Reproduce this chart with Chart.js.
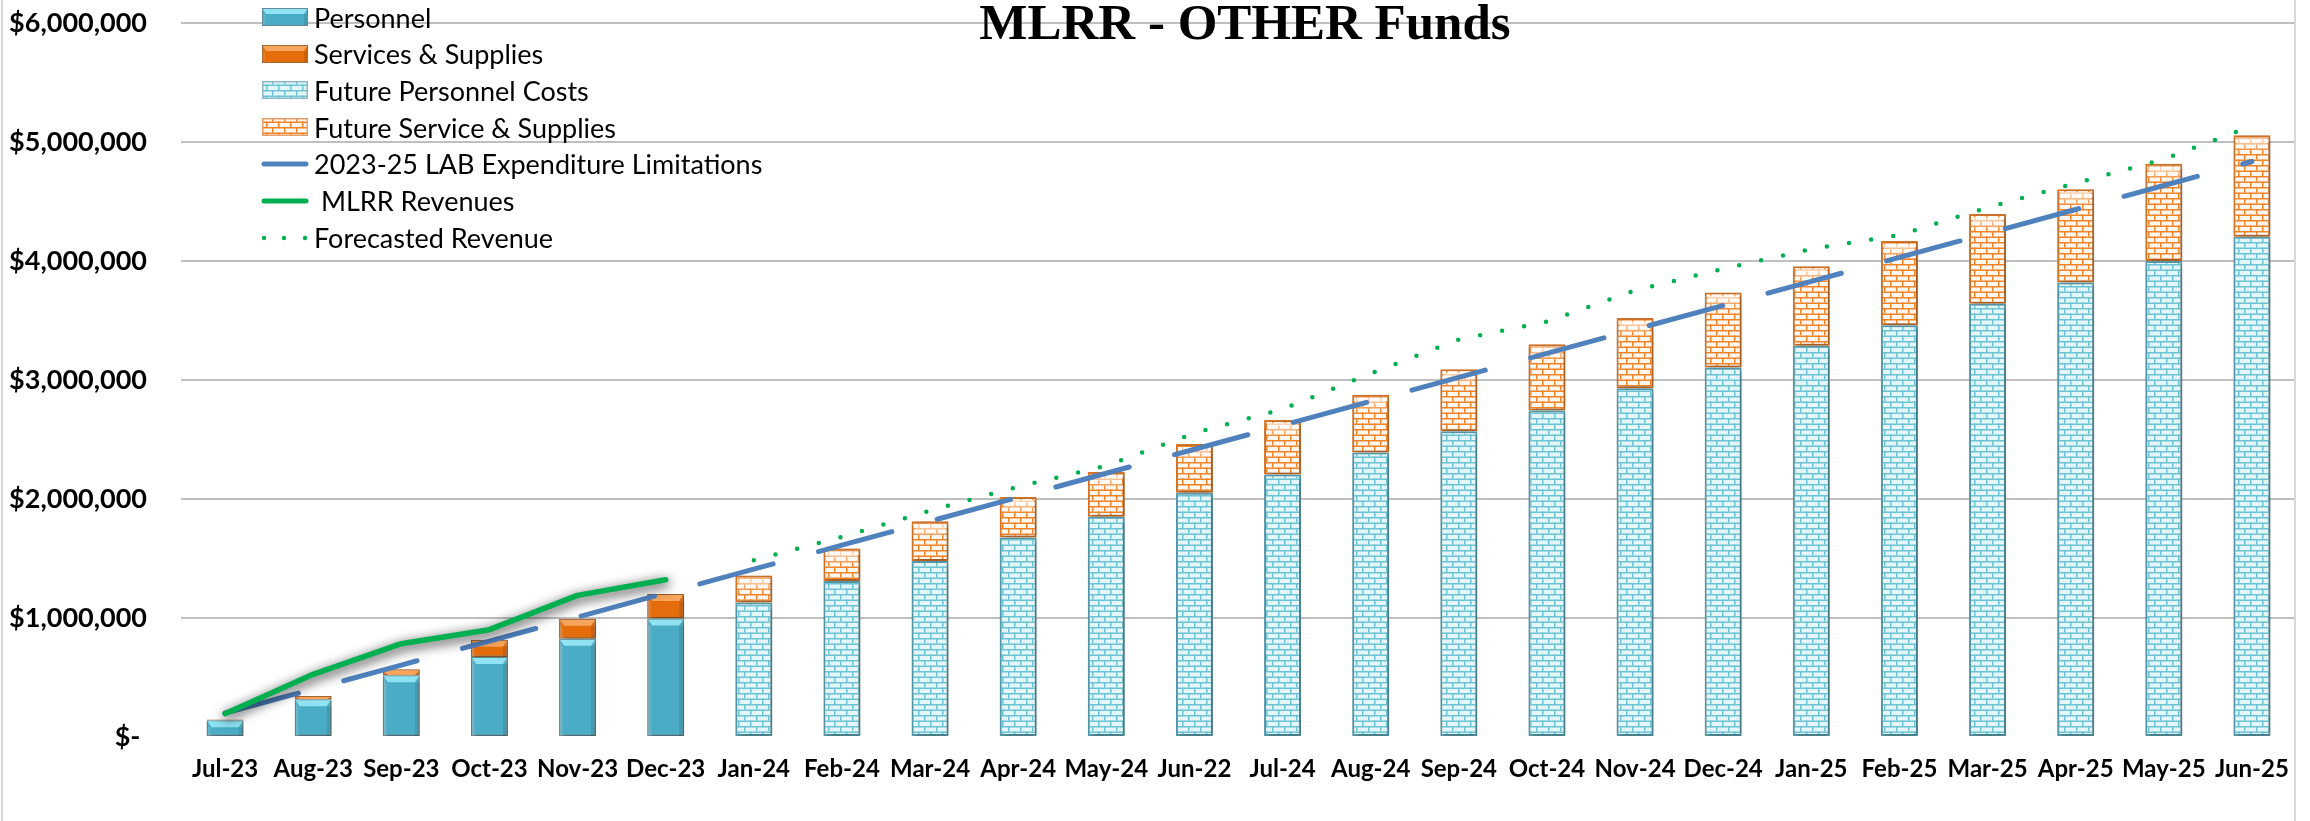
<!DOCTYPE html>
<html>
<head>
<meta charset="utf-8">
<script src="https://cdn.jsdelivr.net/npm/chart.js@4.4.1/dist/chart.umd.min.js"></script>
<style>
html,body{margin:0;padding:0;background:#fff;}
#wrap{position:relative;width:2310px;height:821px;overflow:hidden;background:#fff;}
#c{position:absolute;left:0;top:0;}
#title{position:absolute;left:1245px;top:-3px;transform:translateX(-50%);font-family:"Liberation Serif";font-weight:bold;font-size:51px;line-height:51px;white-space:nowrap;color:#000;}
#legend{position:absolute;left:260px;top:0;font-family:Lato;font-size:27px;color:#000;}
.item{position:absolute;left:0;height:30px;display:flex;align-items:center;white-space:pre;}
.item canvas{margin-right:4px;}
.frame{position:absolute;top:0;width:2px;height:821px;background:#D9D9D9;}
</style>
</head>
<body>
<div id="wrap">
  <canvas id="c" width="2310" height="821"></canvas>
  <div class="frame" style="left:1px"></div>
  <div class="frame" style="left:2294px"></div>
  <div id="title">MLRR - OTHER Funds</div>
  <div id="legend"></div>
</div>
<script>
// ---------- DATA ----------
const categories = ['Jul-23','Aug-23','Sep-23','Oct-23','Nov-23','Dec-23','Jan-24','Feb-24','Mar-24','Apr-24','May-24','Jun-22','Jul-24','Aug-24','Sep-24','Oct-24','Nov-24','Dec-24','Jan-25','Feb-25','Mar-25','Apr-25','May-25','Jun-25'];

const personnel = [140000, 317000, 518000, 672000, 826000, 995000, null, null, null, null, null, null, null, null, null, null, null, null, null, null, null, null, null, null];
const servicesSupplies = [8000, 28000, 51000, 146000, 168000, 207000, null, null, null, null, null, null, null, null, null, null, null, null, null, null, null, null, null, null];
const futurePersonnel = [null, null, null, null, null, null, 1130000, 1310000, 1480000, 1677000, 1850000, 2053000, 2206000, 2390000, 2570000, 2744000, 2930000, 3104000, 3287000, 3460000, 3640000, 3820000, 4000000, 4204000];
const futureServices = [null, null, null, null, null, null, 227000, 275000, 333000, 340000, 376000, 409000, 457000, 486000, 520000, 556000, 590000, 631000, 668000, 708000, 754000, 783000, 818000, 852000];
const labLimitations = [201500, 403000, 604500, 806000, 1007500, 1209000, 1410500, 1612000, 1813500, 2015000, 2216500, 2418000, 2619500, 2821000, 3022500, 3224000, 3425500, 3627000, 3828500, 4030000, 4231500, 4433000, 4634500, 4836000];
const mlrrRevenues = [196000, 527000, 784000, 902000, 1190000, 1322000, null, null, null, null, null, null, null, null, null, null, null, null, null, null, null, null, null, null];
const forecastedRevenue = [null, null, null, null, null, null, 1486000, 1682000, 1902000, 2103000, 2280000, 2554000, 2755000, 3054000, 3341000, 3490000, 3752000, 3935000, 4100000, 4218000, 4450000, 4654000, 4855000, 5135000];

const yTickLabels = ['$- ', '$1,000,000', '$2,000,000', '$3,000,000', '$4,000,000', '$5,000,000', '$6,000,000'];
const chartTitle = 'MLRR - OTHER Funds';

// ---------- PATTERNS ----------
function brickTile(brick, mortar) {
  const c = document.createElement('canvas');
  c.width = 12; c.height = 11;
  const g = c.getContext('2d');
  g.fillStyle = brick; g.fillRect(0, 0, 12, 11);
  g.fillStyle = mortar;
  g.fillRect(0, 0, 12, 1.5);
  g.fillRect(0, 5.5, 12, 1.5);
  g.fillRect(0, 0, 1.5, 5.5);
  g.fillRect(6, 5.5, 1.5, 5.5);
  return c;
}
const mainCtx = document.getElementById('c').getContext('2d');
const fpTile = brickTile('#E4F6F9', '#6CC3D3');
const fsTile = brickTile('#FFF7F0', '#F08429');
const fpPattern = mainCtx.createPattern(fpTile, 'repeat');
const fsPattern = mainCtx.createPattern(fsTile, 'repeat');

// ---------- DECORATION PLUGIN (shadows, bevels) ----------
function drawBevel(ctx, l, r, t, h, kind) {
  if (h <= 0) return;
  const w = r - l;
  if (kind === 'solidBlue' || kind === 'solidOrange') {
    const b = Math.min(6, h);
    ctx.fillStyle = kind === 'solidBlue' ? '#8FE3F3' : '#F7A45C';
    ctx.beginPath();
    ctx.moveTo(l, t); ctx.lineTo(r, t); ctx.lineTo(r - 4, t + b); ctx.lineTo(l + 4, t + b); ctx.closePath();
    ctx.fill();
    ctx.fillStyle = 'rgba(0,0,0,0.10)';
    ctx.fillRect(r - 4, t + b, 4, h - b);
    ctx.fillStyle = 'rgba(255,255,255,0.10)';
    ctx.fillRect(l, t + b, 3, h - b);
  } else if (kind === 'glass') {
    const gh = Math.min(16, h);
    const gr = ctx.createLinearGradient(0, t, 0, t + gh);
    gr.addColorStop(0, 'rgba(255,255,255,0.85)');
    gr.addColorStop(1, 'rgba(255,255,255,0)');
    ctx.fillStyle = gr;
    ctx.fillRect(l + 2, t + 2, w - 4, gh);
  }
}
const deco = {
  id: 'deco',
  beforeDatasetDraw(chart, args) {
    const ds = chart.data.datasets[args.index];
    const ctx = chart.ctx;
    ctx.save();
    if (ds.fx === 'bar') {
      ctx.shadowColor = 'rgba(0,0,0,0.35)'; ctx.shadowBlur = 6; ctx.shadowOffsetX = 2; ctx.shadowOffsetY = 2;
    } else if (ds.fx === 'glow') {
      ctx.shadowColor = 'rgba(0,0,0,0.9)'; ctx.shadowBlur = 12; ctx.shadowOffsetX = 1; ctx.shadowOffsetY = 3;
    }
  },
  afterDatasetDraw(chart, args) {
    const ctx = chart.ctx;
    ctx.restore();
    const ds = chart.data.datasets[args.index];
    if (!ds.bevel) return;
    args.meta.data.forEach((el, i) => {
      if (ds.data[i] == null) return;
      const p = el.getProps(['x', 'y', 'base', 'width'], true);
      const l = p.x - p.width / 2, r = p.x + p.width / 2;
      const t = Math.min(p.y, p.base), h = Math.abs(p.base - p.y);
      ctx.save();
      drawBevel(ctx, l + 1, r - 1, t + 1, h - 1, ds.bevel);
      ctx.restore();
    });
  }
};

// ---------- CHART ----------
const barCommon = { type: 'bar', order: 2, categoryPercentage: 1, barPercentage: 0.42, borderSkipped: false, fx: 'bar' };
const chart = new Chart(mainCtx, {
  data: {
    labels: categories,
    datasets: [
      Object.assign({}, barCommon, { label: 'Personnel', data: personnel, backgroundColor: '#4BACC6', borderColor: '#5F8C98', borderWidth: 1.5, bevel: 'solidBlue', swatch: 'blue' }),
      Object.assign({}, barCommon, { label: 'Services & Supplies', data: servicesSupplies, backgroundColor: '#E46C0A', borderColor: '#A8652E', borderWidth: 1.5, bevel: 'solidOrange', swatch: 'orange' }),
      Object.assign({}, barCommon, { label: 'Future Personnel Costs', data: futurePersonnel, backgroundColor: fpPattern, borderColor: '#5A9EAF', borderWidth: 2, swatch: 'fp' }),
      Object.assign({}, barCommon, { label: 'Future Service & Supplies', data: futureServices, backgroundColor: fsPattern, borderColor: '#D9782A', borderWidth: 2, bevel: 'glass', swatch: 'fs' }),
      { type: 'line', label: '2023-25 LAB Expenditure Limitations', data: labLimitations, yAxisID: 'yl', order: 1,
        borderColor: '#4F81BD', borderWidth: 5, borderDash: [76, 47], borderCapStyle: 'round', pointRadius: 0, fill: false, tension: 0, swatch: 'lab' },
      { type: 'line', label: ' MLRR Revenues', data: mlrrRevenues, yAxisID: 'yl', order: 0,
        borderColor: '#00B050', borderWidth: 5.5, borderCapStyle: 'round', borderJoinStyle: 'round', pointRadius: 0, fill: false, tension: 0, fx: 'glow', swatch: 'rev' },
      { type: 'line', label: 'Forecasted Revenue', data: forecastedRevenue, yAxisID: 'yl', order: 1,
        borderColor: '#00B050', borderWidth: 4.5, borderDash: [0, 22.4], borderCapStyle: 'round', pointRadius: 0, fill: false, tension: 0, swatch: 'fc' }
    ]
  },
  options: {
    responsive: false,
    animation: false,
    devicePixelRatio: 1,
    layout: { padding: { top: 23, right: 14, left: 0, bottom: 0 } },
    plugins: { legend: { display: false }, title: { display: false }, tooltip: { enabled: false } },
    scales: {
      x: {
        stacked: true, offset: true,
        grid: { display: false, drawTicks: false },
        border: { display: false },
        ticks: { color: '#000', font: { family: 'Lato', weight: 'bold', size: 24 }, padding: 18, maxRotation: 0, autoSkip: false },
        afterFit(s) { s.height = 84; }
      },
      y: {
        stacked: true, min: 0, max: 6000000,
        grid: { color: (c) => (c.tick && c.tick.value === 0) ? 'rgba(0,0,0,0)' : '#BFBFBF', lineWidth: 2, drawTicks: false },
        border: { display: false },
        ticks: { stepSize: 1000000, color: '#000', font: { family: 'Lato', weight: 'bold', size: 27 }, padding: 34,
          callback: (v, i) => yTickLabels[i] },
        afterFit(s) { s.width = 181; s.paddingTop = 10; s.paddingBottom = 10; }
      },
      yl: { display: false, stacked: false, min: 0, max: 6000000 }
    }
  },
  plugins: [deco]
});

// ---------- HTML LEGEND ----------
function swatchCanvas(kind) {
  const c = document.createElement('canvas');
  c.width = 50; c.height = 22;
  const g = c.getContext('2d');
  const l = 2, t = 2, w = 46, h = 18;
  if (kind === 'blue' || kind === 'orange') {
    g.fillStyle = kind === 'blue' ? '#4BACC6' : '#E46C0A';
    g.fillRect(l, t, w, h);
    drawBevel(g, l, l + w, t, h, kind === 'blue' ? 'solidBlue' : 'solidOrange');
    g.strokeStyle = kind === 'blue' ? '#5F8C98' : '#A8652E'; g.lineWidth = 1;
    g.strokeRect(l + 0.5, t + 0.5, w - 1, h - 1);
  } else if (kind === 'fp' || kind === 'fs') {
    g.fillStyle = g.createPattern(kind === 'fp' ? fpTile : fsTile, 'repeat');
    g.fillRect(l, t, w, h);
    g.strokeStyle = kind === 'fp' ? '#8FB8C2' : '#E3A06A'; g.lineWidth = 1.5;
    g.strokeRect(l + 0.75, t + 0.75, w - 1.5, h - 1.5);
  } else if (kind === 'lab' || kind === 'rev') {
    g.strokeStyle = kind === 'lab' ? '#4F81BD' : '#00B050';
    g.lineWidth = 5; g.lineCap = 'round';
    g.beginPath(); g.moveTo(4, 11); g.lineTo(46, 11); g.stroke();
  } else if (kind === 'fc') {
    g.fillStyle = '#00B050';
    [4, 24, 45].forEach(x => { g.beginPath(); g.arc(x, 12, 2.2, 0, Math.PI * 2); g.fill(); });
  }
  return c;
}
const legendEl = document.getElementById('legend');
chart.data.datasets.forEach((ds, i) => {
  const row = document.createElement('div');
  row.className = 'item';
  row.style.top = (2 + i * 36.7) + 'px';
  row.appendChild(swatchCanvas(ds.swatch));
  const span = document.createElement('span');
  span.textContent = ds.label;
  row.appendChild(span);
  legendEl.appendChild(row);
});
document.getElementById('title').textContent = chartTitle;
</script>
</body>
</html>
